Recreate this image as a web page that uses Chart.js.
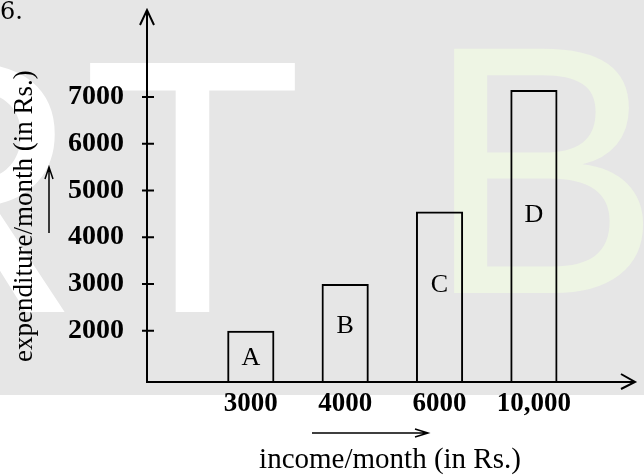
<!DOCTYPE html>
<html>
<head>
<meta charset="utf-8">
<script src="https://cdn.jsdelivr.net/npm/chart.js@4.4.1/dist/chart.umd.min.js"></script>
<style>
  html, body { margin: 0; padding: 0; background: #fff; }
  #wrap { width: 644px; height: 475px; }
</style>
</head>
<body>
<div id="wrap"><canvas id="incomeChart"></canvas></div>
<script>
// values
const incomeLabels = ['3000', '4000', '6000', '10,000'];
const expenditure = [2000, 3000, 4550, 7150];
const barLetters = ['A', 'B', 'C', 'D'];
const yTickValues = [2000, 3000, 4000, 5000, 6000, 7000];

const serif = "'Liberation Serif', 'Times New Roman', serif";

// bars sit at 1..4 on a linear x axis so the y axis can stand to the left of the first one
const barData = expenditure.map((v, i) => ({ x: i + 1, y: v }));

// grey scan background + faint watermark letters
const backdrop = {
  id: 'backdrop',
  beforeDraw(chart) {
    const ctx = chart.ctx;
    ctx.save();
    ctx.fillStyle = '#ffffff';
    ctx.fillRect(0, 0, chart.width, chart.height);
    ctx.fillStyle = '#e6e6e6';
    ctx.fillRect(0, 0, chart.width, 395);
    ctx.textAlign = 'left';
    ctx.textBaseline = 'alphabetic';
    ctx.font = "362px 'Liberation Sans', Arial, sans-serif";
    ctx.fillStyle = '#ffffff';
    ctx.fillText('R', -180, 312);
    ctx.fillText('T', 82, 312);
    ctx.font = "355px 'Liberation Sans', Arial, sans-serif";
    ctx.fillStyle = '#eef5e4';
    ctx.fillText('B', 425, 293);
    ctx.restore();
  }
};

// axis lines with arrow heads, crossing ticks, small arrows by the titles, letters in bars
const axesAndArrows = {
  id: 'axesAndArrows',
  afterDatasetsDraw(chart) {
    const { ctx, chartArea: a, scales: { y } } = chart;
    ctx.save();
    ctx.strokeStyle = '#000';
    ctx.lineWidth = 2;
    ctx.beginPath();
    ctx.moveTo(a.left, a.bottom + 1);
    ctx.lineTo(a.left, 10);
    ctx.moveTo(a.left - 7, 25);
    ctx.lineTo(a.left, 10);
    ctx.lineTo(a.left + 7, 25);
    ctx.moveTo(a.left - 1, a.bottom);
    ctx.lineTo(a.right + 2, a.bottom);
    ctx.moveTo(a.right - 12, a.bottom - 8);
    ctx.lineTo(a.right + 2, a.bottom);
    ctx.lineTo(a.right - 12, a.bottom + 7);
    yTickValues.forEach(v => {
      const py = y.getPixelForValue(v);
      ctx.moveTo(a.left - 5, py);
      ctx.lineTo(a.left + 7, py);
    });
    ctx.stroke();

    ctx.lineWidth = 1.5;
    ctx.beginPath();
    ctx.moveTo(49, 233);
    ctx.lineTo(49, 167);
    ctx.moveTo(45, 179);
    ctx.lineTo(49, 167);
    ctx.lineTo(53, 179);
    ctx.moveTo(312, 433);
    ctx.lineTo(428, 433);
    ctx.moveTo(415, 429);
    ctx.lineTo(428, 433);
    ctx.lineTo(415, 437);
    ctx.stroke();

    // letters sit a bit above the middle of each bar (bars are clipped at the x axis)
    const meta = chart.getDatasetMeta(0);
    ctx.fillStyle = '#000';
    ctx.font = '26px ' + serif;
    ctx.textAlign = 'center';
    ctx.textBaseline = 'middle';
    meta.data.forEach((bar, i) => {
      const h = a.bottom - bar.y;
      const ty = Math.max(bar.y + h * 0.43, bar.y + 28);
      ctx.fillText(barLetters[i], bar.x, ty);
    });
    ctx.restore();
  }
};

new Chart(document.getElementById('incomeChart'), {
  type: 'bar',
  data: {
    datasets: [{
      data: barData,
      backgroundColor: 'rgba(0,0,0,0)',
      borderColor: '#000',
      borderWidth: 2,
      barPercentage: 0.5,
      categoryPercentage: 1.0
    }]
  },
  options: {
    responsive: true,
    maintainAspectRatio: false,
    animation: false,
    layout: { padding: { left: 0, top: 0, right: 11, bottom: 0 } },
    plugins: {
      legend: { display: false },
      tooltip: { enabled: false },
      title: {
        display: true,
        text: '6.',
        align: 'start',
        color: '#000',
        font: { family: "'DejaVu Serif', serif", size: 24, weight: 'normal', lineHeight: 1.1 },
        padding: { top: 0, bottom: 24 }
      }
    },
    scales: {
      x: {
        type: 'linear',
        offset: false,
        min: -0.1,
        max: 5.05,
        grid: { display: false, offset: false, drawTicks: false },
        border: { display: false },
        afterBuildTicks: s => { s.ticks = incomeLabels.map((_, i) => ({ value: i + 1 })); },
        afterFit: s => { s.height = 93; },
        ticks: {
          autoSkip: false,
          maxRotation: 0,
          padding: 9,
          color: '#000',
          font: { family: serif, size: 27, weight: 'bold', lineHeight: 1 },
          callback: v => incomeLabels[v - 1]
        },
        title: {
          display: true,
          text: 'income/month (in Rs.)',
          color: '#000',
          font: { family: serif, size: 29, lineHeight: 1 },
          padding: { top: 0, bottom: 0 }
        }
      },
      y: {
        min: 900,
        max: 8000,
        grid: { display: false, drawTicks: false },
        border: { display: false },
        afterBuildTicks: s => { s.ticks = yTickValues.map(v => ({ value: v })); },
        afterFit: s => { s.width = 147; },
        ticks: {
          padding: 23,
          color: '#000',
          font: { family: serif, size: 28, weight: 'bold', lineHeight: 1 },
          callback: v => String(v)
        },
        title: {
          display: true,
          text: 'expenditure/month (in Rs.)',
          color: '#000',
          font: { family: serif, size: 27, lineHeight: 1 },
          padding: { top: 11, bottom: 0 }
        }
      }
    }
  },
  plugins: [backdrop, axesAndArrows]
});
</script>
</body>
</html>
